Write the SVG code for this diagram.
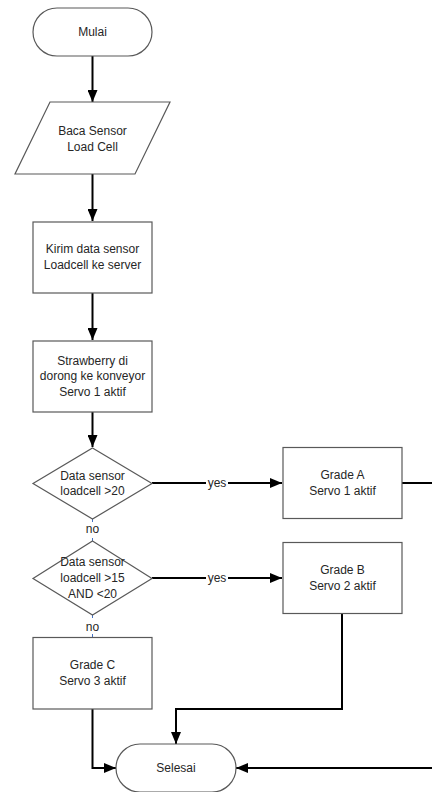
<svg xmlns="http://www.w3.org/2000/svg" width="432" height="792" viewBox="0 0 432 792">
<style>
.shape{fill:#fff;stroke:#595959;stroke-width:1.2}
.t{font-family:"Liberation Sans",Arial,sans-serif;font-size:12px;fill:#262626;text-anchor:middle}
.c{fill:none;stroke:#000;stroke-width:2}
.lbl{fill:#fff}
.tick{stroke:#4472C4;stroke-width:1}
</style>
<defs>
<marker id="ah" markerUnits="userSpaceOnUse" markerWidth="12" markerHeight="10" refX="12" refY="5" orient="auto">
<path d="M0,0 L12,5 L0,10 z" fill="#000"/>
</marker>
</defs>
<rect width="432" height="792" fill="#fff"/>
<g id="connectors">
<line class="c" x1="92.5" y1="56" x2="92.5" y2="102" marker-end="url(#ah)"/>
<line class="c" x1="92.5" y1="174" x2="92.5" y2="221" marker-end="url(#ah)"/>
<line class="c" x1="92.5" y1="293" x2="92.5" y2="340" marker-end="url(#ah)"/>
<line class="c" x1="92.5" y1="412" x2="92.5" y2="447" marker-end="url(#ah)"/>
<line class="c" x1="152" y1="483" x2="282" y2="483" marker-end="url(#ah)"/>
<line class="c" x1="152" y1="578" x2="282" y2="578" marker-end="url(#ah)"/>
<line class="c" x1="402" y1="483" x2="432" y2="483"/>
<polyline class="c" points="342,614 342,709 176,709 176,744" marker-end="url(#ah)"/>
<polyline class="c" points="92.5,709 92.5,768 116,768" marker-end="url(#ah)"/>
<line class="c" x1="432" y1="768" x2="236" y2="768" marker-end="url(#ah)"/>
<line class="tick" x1="92.5" y1="519" x2="92.5" y2="522"/>
<line class="tick" x1="92.5" y1="538" x2="92.5" y2="541"/>
<line class="tick" x1="92.5" y1="615" x2="92.5" y2="618"/>
<line class="tick" x1="92.5" y1="634" x2="92.5" y2="637"/>
<rect class="lbl" x="206" y="476" width="22" height="14"/>
<text class="t" x="217" y="487">yes</text>
<rect class="lbl" x="206" y="571" width="22" height="14"/>
<text class="t" x="217" y="582">yes</text>
<text class="t" x="92.5" y="533">no</text>
<text class="t" x="92.5" y="631">no</text>
</g>
<g id="mulai">
<rect class="shape" x="33" y="8" width="119" height="48" rx="24"/>
<text class="t" x="92.5" y="36">Mulai</text>
</g>
<g id="baca">
<polygon class="shape" points="50,102 170,102 135,174 15,174"/>
<text class="t" x="92.5" y="135">Baca Sensor</text>
<text class="t" x="92.5" y="151">Load Cell</text>
</g>
<g id="kirim">
<rect class="shape" x="33" y="222" width="119" height="71"/>
<text class="t" x="92.5" y="253">Kirim data sensor</text>
<text class="t" x="92.5" y="269">Loadcell ke server</text>
</g>
<g id="strawberry">
<rect class="shape" x="33" y="341" width="119" height="71"/>
<text class="t" x="92.5" y="365">Strawberry di</text>
<text class="t" x="92.5" y="380">dorong ke konveyor</text>
<text class="t" x="92.5" y="396">Servo 1 aktif</text>
</g>
<g id="cek1">
<polygon class="shape" points="92.5,448 152,483.5 92.5,519 33,483.5"/>
<text class="t" x="92.5" y="480">Data sensor</text>
<text class="t" x="92.5" y="495">loadcell &gt;20</text>
</g>
<g id="cek2">
<polygon class="shape" points="92.5,541 152,578.5 92.5,615 33,578.5"/>
<text class="t" x="92.5" y="566">Data sensor</text>
<text class="t" x="92.5" y="582">loadcell &gt;15</text>
<text class="t" x="92.5" y="598">AND &lt;20</text>
</g>
<g id="gradeA">
<rect class="shape" x="283" y="447.5" width="119" height="71"/>
<text class="t" x="342.5" y="479">Grade A</text>
<text class="t" x="342.5" y="495">Servo 1 aktif</text>
</g>
<g id="gradeB">
<rect class="shape" x="283" y="542.5" width="119" height="71"/>
<text class="t" x="342.5" y="574">Grade B</text>
<text class="t" x="342.5" y="590">Servo 2 aktif</text>
</g>
<g id="gradeC">
<rect class="shape" x="33" y="637.5" width="119" height="71.5"/>
<text class="t" x="92.5" y="669">Grade C</text>
<text class="t" x="92.5" y="685">Servo 3 aktif</text>
</g>
<g id="selesai">
<rect class="shape" x="116" y="744" width="120" height="48" rx="24"/>
<text class="t" x="176" y="772">Selesai</text>
</g>
</svg>
